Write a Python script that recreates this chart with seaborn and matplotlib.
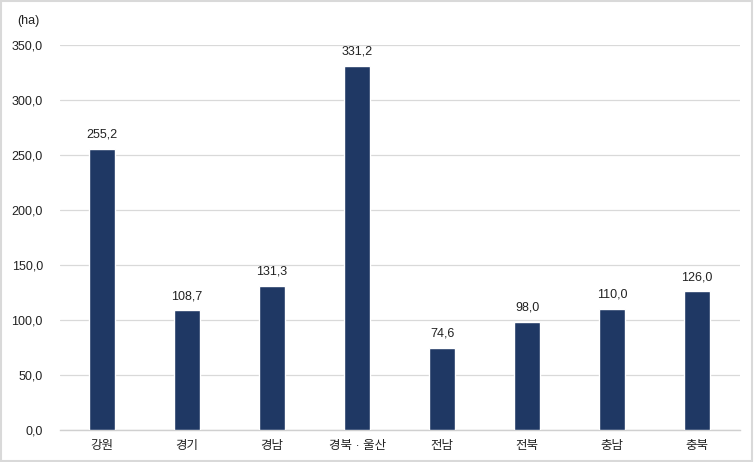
import matplotlib
matplotlib.use("Agg")
import matplotlib.pyplot as plt
import seaborn as sns
import pandas as pd
from matplotlib.ticker import FuncFormatter
from matplotlib.patches import Rectangle

categories = ["강원", "경기", "경남", "경북 · 울산", "전남", "전북", "충남", "충북"]
values = [255.2, 108.7, 131.3, 331.2, 74.6, 98.0, 110.0, 126.0]
yticks = [0, 50, 100, 150, 200, 250, 300, 350]

sns.set_theme(style="white")
plt.rcParams['font.family'] = ['Liberation Sans', 'Noto Sans CJK KR', 'DejaVu Sans']

df = pd.DataFrame({"region": categories, "value": values})

fig = plt.figure(figsize=(7.54, 4.62), dpi=100)
ax = fig.add_axes([0.079, 0.0693, 0.902, 0.8333])
sns.barplot(data=df, x="region", y="value", color="#1f3864", width=0.31,
            saturation=1, ax=ax, zorder=3)

ax.set_ylim(0, 350)
ax.set_yticks(yticks)
ax.yaxis.set_major_formatter(FuncFormatter(lambda v, p: f"{v:.1f}".replace(".", ",")))
ax.grid(axis="y", color="#d9d9d9", linewidth=0.9, zorder=0)
ax.set_axisbelow(True)
for s in ["top", "right", "left"]:
    ax.spines[s].set_visible(False)
ax.spines["bottom"].set_color("#d0d0d0")
ax.spines["bottom"].set_linewidth(1.0)
ax.set_xlabel("")
ax.set_ylabel("")
ax.tick_params(axis="both", length=0, labelsize=9, colors="#222222")
ax.tick_params(axis="y", pad=12)
ax.tick_params(axis="x", pad=7)

for i, v in enumerate(values):
    ax.annotate(f"{v:.1f}".replace(".", ","), (i, v), xytext=(0, 6),
                textcoords="offset points", ha="center", va="bottom",
                fontsize=9, color="#222222")

fig.text(17 / 754, 1 - 21 / 462, "(ha)", fontsize=9, color="#222222",
         ha="left", va="center")
fig.patches.append(Rectangle((0.001, 0.002), 0.997, 0.995, transform=fig.transFigure,
                             fill=False, edgecolor="#d9d9d9", linewidth=1.5))

fig.savefig("out.png", dpi=100)
